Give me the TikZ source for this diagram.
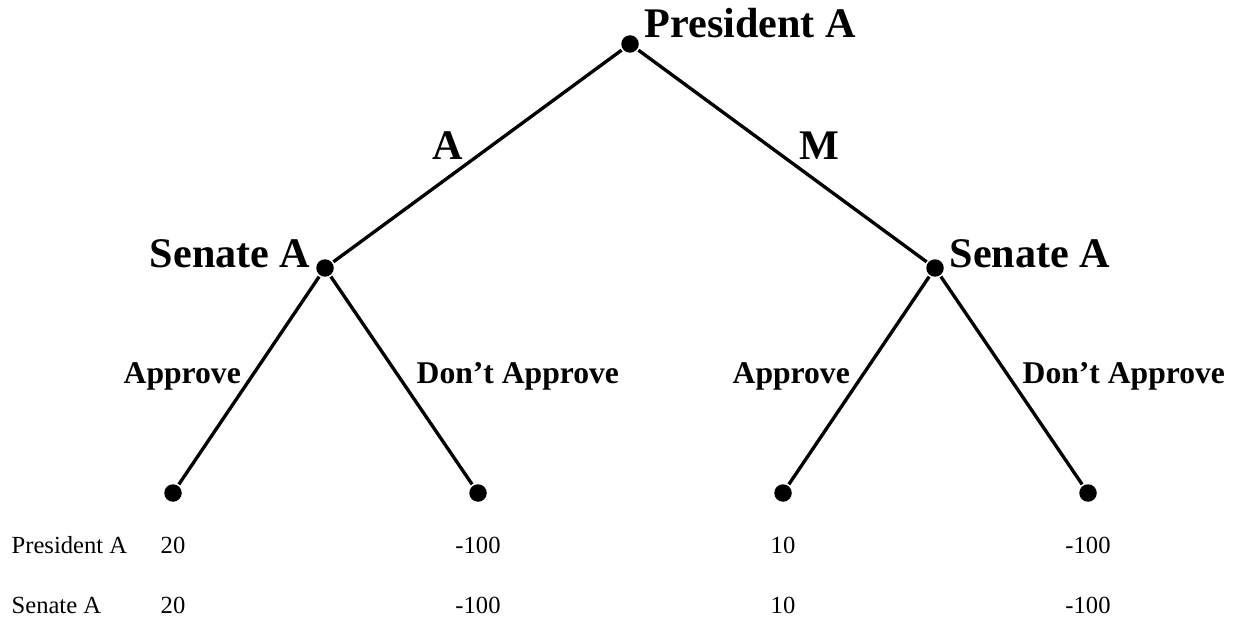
\documentclass[tikz,border=0pt]{standalone}
\usepackage{fontspec}
\setmainfont{Liberation Serif}
\usetikzlibrary{positioning}

\begin{document}
\begin{tikzpicture}[x=0.02cm,y=-0.02cm,line width=1.9pt,
 dot/.style={circle,fill,inner sep=0pt,minimum size=0.35cm},
 player/.style={font=\bfseries\fontsize{24}{28}\selectfont,inner sep=0pt},
 act/.style={font=\bfseries\fontsize{18}{22}\selectfont,inner sep=0pt,anchor=base west},
 pay/.style={font=\fontsize{14}{17}\selectfont,inner sep=0pt,anchor=base}]
\useasboundingbox (0,0) rectangle (1239,621);
\node[dot] (root) at (630,44) {};
\node[dot] (sa) at (325,268) {};
\node[dot] (sm) at (935,268) {};
\node[dot] (aa) at (173,493) {};
\node[dot] (ad) at (478,493) {};
\node[dot] (ma) at (783,493) {};
\node[dot] (md) at (1088,493) {};
\node[player,anchor=base west] (proot) at (643,38) {President A};
\node[player,anchor=base east] (psa) at (312,268) {Senate A};
\node[player,anchor=base west] (psm) at (948,268) {Senate A};
\draw (root) -- (sa);
\draw (root) -- (sm);
\draw (sa) -- (aa);
\draw (sa) -- (ad);
\draw (sm) -- (ma);
\draw (sm) -- (md);
\node[player,anchor=base] (la) at (448,160) {A};
\node[player,anchor=base] (lm) at (819,160) {M};
\node[act] (laa) at (122,383) {Approve};
\node[act] (lad) at (415,383) {Don’t Approve};
\node[act] (lma) at (731,383) {Approve};
\node[act] (lmd) at (1021,383) {Don’t Approve};
% payoffs
\node[pay,anchor=base west] (rowp) at (10,553) {President A};
\node[pay,anchor=base west] (rows) at (10,613) {Senate A};
\node[pay] at (aa |- rowp.base) {20};
\node[pay] at (ad |- rowp.base) {-100};
\node[pay] at (ma |- rowp.base) {10};
\node[pay] at (md |- rowp.base) {-100};
\node[pay] at (aa |- rows.base) {20};
\node[pay] at (ad |- rows.base) {-100};
\node[pay] at (ma |- rows.base) {10};
\node[pay] at (md |- rows.base) {-100};
\end{tikzpicture}
\end{document}
